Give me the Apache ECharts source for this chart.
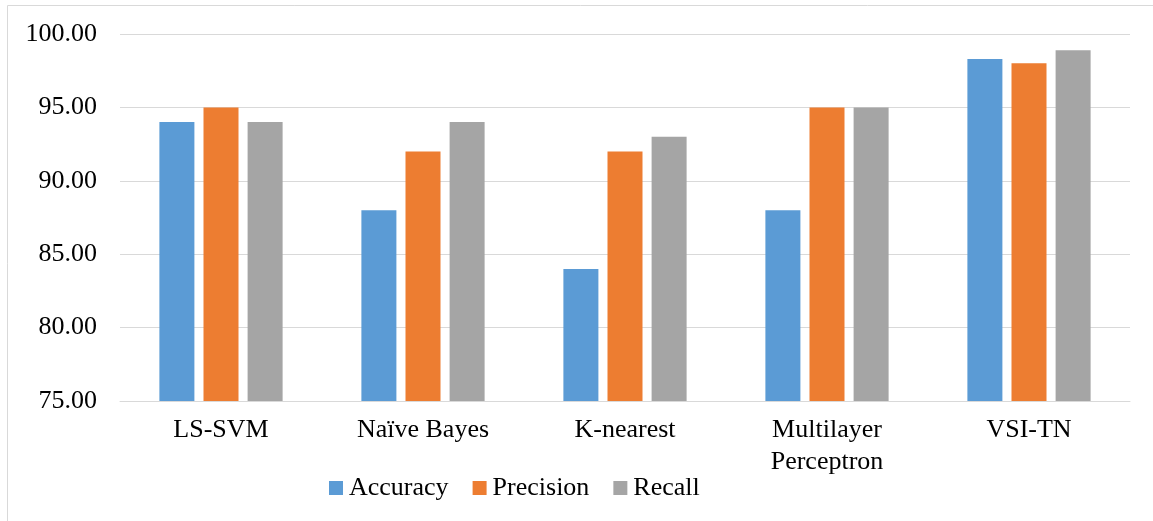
<!DOCTYPE html>
<html>
<head>
<meta charset="utf-8">
<script src="https://cdn.jsdelivr.net/npm/echarts@6/dist/echarts.min.js"></script>
<style>
  html, body { margin: 0; padding: 0; background: #fff; }
  #chart { width: 1153px; height: 521px; }
</style>
</head>
<body>
<div id="chart"></div>
<script>
// Classifier comparison: accuracy, precision and recall (%)
const categories = ['LS-SVM', 'Naïve Bayes', 'K-nearest', 'Multilayer\nPerceptron', 'VSI-TN'];
const seriesNames = ['Accuracy', 'Precision', 'Recall'];
const accuracy  = [94, 88, 84, 88, 98.3];
const precision = [95, 92, 92, 95, 98];
const recall    = [94, 94, 93, 95, 98.9];
const yTicks = { min: 75, max: 100, interval: 5 };

const colors = ['#5B9BD5', '#ED7D31', '#A5A5A5'];
const fontFamily = '"Liberation Serif", "Times New Roman", serif';
const values = [accuracy, precision, recall];

const chart = echarts.init(document.getElementById('chart'));
chart.setOption({
  animation: false,
  color: colors,
  textStyle: { fontFamily: fontFamily },
  graphic: [{
    type: 'rect',
    shape: { x: 7.5, y: 5.5, width: 1160, height: 530 },
    style: { fill: 'none', stroke: '#d9d9d9', lineWidth: 1 },
    silent: true,
    z: -1
  }],
  grid: { left: 120, right: 23, top: 34, bottom: 120 },
  legend: {
    data: seriesNames,
    left: 329,
    top: 474,
    padding: 0,
    itemWidth: 14,
    itemHeight: 14,
    itemGap: 24,
    icon: 'rect',
    textStyle: { fontFamily: fontFamily, fontSize: 26, color: '#000', lineHeight: 28, padding: [0, 0, 0, 1] }
  },
  xAxis: {
    type: 'category',
    data: categories,
    axisLine: { lineStyle: { color: '#d9d9d9', width: 1 } },
    axisTick: { show: false },
    axisLabel: {
      fontFamily: fontFamily,
      fontSize: 26,
      color: '#000',
      margin: 13,
      lineHeight: 32
    }
  },
  yAxis: {
    type: 'value',
    min: yTicks.min,
    max: yTicks.max,
    interval: yTicks.interval,
    axisLine: { show: false },
    axisTick: { show: false },
    splitLine: { lineStyle: { color: '#d9d9d9', width: 1 } },
    axisLabel: {
      fontFamily: fontFamily,
      fontSize: 26,
      color: '#000',
      margin: 23,
      formatter: v => v.toFixed(2)
    }
  },
  series: seriesNames.map((name, i) => ({
    name: name,
    type: 'bar',
    data: values[i],
    barGap: '26%',
    barCategoryGap: '39%',
    itemStyle: { color: colors[i] }
  }))
});
</script>
</body>
</html>
